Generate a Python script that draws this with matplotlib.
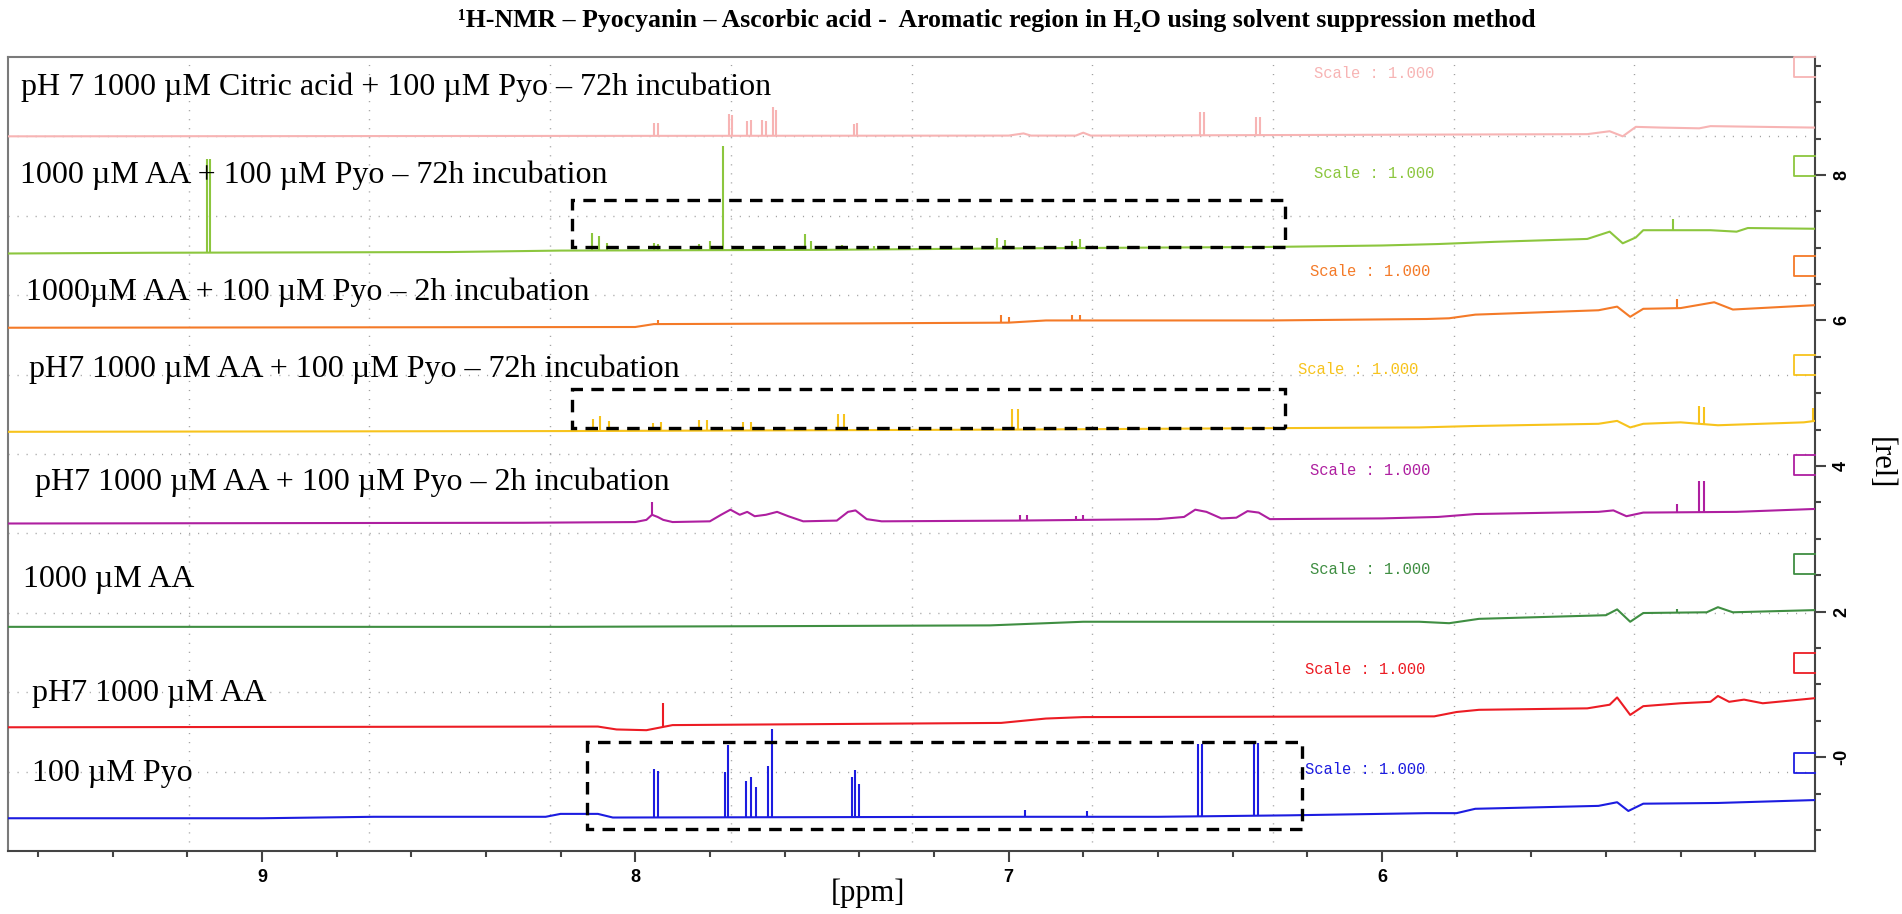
import numpy as np
import matplotlib
matplotlib.use('Agg')
import matplotlib.pyplot as plt
from matplotlib.patches import Rectangle

plt.rcParams['lines.scale_dashes'] = False

# ---- data: baseline anchors (ppm, rel) and peaks (ppm, height above baseline) ----
pink_base = [(9.68, 8.53), (7.0, 8.54), (6.96, 8.57), (6.94, 8.54), (6.82, 8.54), (6.80, 8.58),
             (6.78, 8.54), (5.45, 8.56), (5.39, 8.60), (5.355, 8.53), (5.32, 8.66), (5.25, 8.65),
             (5.15, 8.64), (5.12, 8.67), (4.84, 8.65)]
pink_peaks = [(7.950, 0.17), (7.938, 0.17), (7.750, 0.30), (7.742, 0.28), (7.700, 0.20), (7.690, 0.22),
              (7.660, 0.22), (7.650, 0.20), (7.630, 0.40), (7.622, 0.36), (7.415, 0.16), (7.405, 0.18),
              (6.486, 0.32), (6.476, 0.32), (6.337, 0.25), (6.327, 0.25)]

lime_base = [(9.68, 6.92), (9.3, 6.93), (8.5, 6.94), (8.2, 6.96), (7.5, 6.97), (7.0, 6.99), (6.30, 7.01),
             (6.0, 7.03), (5.85, 7.05), (5.70, 7.08), (5.45, 7.12), (5.39, 7.22), (5.355, 7.06),
             (5.32, 7.14), (5.30, 7.24), (5.12, 7.24), (5.05, 7.22), (5.02, 7.27), (4.84, 7.26)]
lime_peaks = [(9.148, 1.28), (9.138, 1.28), (7.765, 1.43), (8.115, 0.24), (8.098, 0.20), (8.075, 0.10),
              (7.950, 0.10), (7.940, 0.08), (7.830, 0.08), (7.800, 0.12), (7.710, 0.06), (7.680, 0.06),
              (7.545, 0.22), (7.530, 0.12), (7.445, 0.06), (7.360, 0.05), (7.030, 0.15), (7.010, 0.12),
              (6.830, 0.10), (6.810, 0.12), (5.220, 0.15)]

orange_base = [(9.68, 5.90), (8.0, 5.91), (7.95, 5.95), (7.40, 5.96), (7.0, 5.97), (6.9, 6.00), (6.3, 6.00),
               (5.88, 6.02), (5.82, 6.03), (5.75, 6.08), (5.42, 6.14), (5.37, 6.19), (5.335, 6.05),
               (5.30, 6.16), (5.20, 6.17), (5.11, 6.25), (5.06, 6.15), (4.84, 6.21)]
orange_peaks = [(7.94, 0.06), (7.02, 0.10), (7.00, 0.08), (6.83, 0.07), (6.81, 0.08), (5.21, 0.12)]

gold_base = [(9.68, 4.47), (8.2, 4.48), (7.0, 4.50), (6.3, 4.52), (5.9, 4.53), (5.75, 4.55), (5.42, 4.58),
             (5.37, 4.62), (5.335, 4.53), (5.30, 4.58), (5.20, 4.60), (5.10, 4.56), (4.87, 4.60), (4.84, 4.62)]
gold_peaks = [(8.114, 0.17), (8.094, 0.20), (8.071, 0.14), (7.952, 0.10), (7.930, 0.12), (7.829, 0.15),
              (7.808, 0.15), (7.712, 0.12), (7.690, 0.12), (7.458, 0.22), (7.442, 0.22), (6.990, 0.28),
              (6.975, 0.28), (5.150, 0.24), (5.136, 0.24), (4.845, 0.18)]

magenta_base = [(9.68, 3.21), (8.3, 3.22), (8.0, 3.23), (7.97, 3.26), (7.955, 3.33), (7.94, 3.30),
                (7.925, 3.26), (7.90, 3.23), (7.80, 3.24), (7.77, 3.33), (7.745, 3.40), (7.72, 3.33),
                (7.70, 3.37), (7.68, 3.31), (7.65, 3.33), (7.62, 3.37), (7.59, 3.31), (7.55, 3.24),
                (7.46, 3.25), (7.43, 3.37), (7.41, 3.39), (7.38, 3.27), (7.34, 3.24), (6.98, 3.25),
                (6.6, 3.27), (6.53, 3.30), (6.50, 3.40), (6.47, 3.37), (6.43, 3.28), (6.39, 3.29),
                (6.36, 3.38), (6.33, 3.36), (6.30, 3.27), (6.0, 3.28), (5.85, 3.30), (5.75, 3.34),
                (5.42, 3.37), (5.38, 3.39), (5.345, 3.31), (5.30, 3.36), (5.05, 3.37), (4.84, 3.41)]
magenta_peaks = [(7.955, 0.17), (6.97, 0.07), (6.95, 0.08), (6.82, 0.06), (6.80, 0.07), (5.21, 0.12),
                 (5.150, 0.43), (5.136, 0.43)]

green_base = [(9.68, 1.79), (8.20, 1.79), (7.60, 1.80), (7.05, 1.81), (6.80, 1.86), (5.90, 1.86),
              (5.82, 1.84), (5.74, 1.90), (5.40, 1.95), (5.37, 2.03), (5.335, 1.86), (5.30, 1.98),
              (5.13, 1.99), (5.10, 2.06), (5.06, 1.99), (4.84, 2.02)]
green_peaks = [(5.21, 0.05)]

red_base = [(9.68, 0.41), (8.10, 0.42), (8.05, 0.38), (7.97, 0.37), (7.90, 0.44), (7.02, 0.47), (6.90, 0.53),
            (6.80, 0.55), (5.86, 0.56), (5.80, 0.62), (5.74, 0.65), (5.45, 0.67), (5.39, 0.72), (5.37, 0.82),
            (5.335, 0.58), (5.30, 0.70), (5.20, 0.74), (5.12, 0.76), (5.10, 0.84), (5.07, 0.76), (5.03, 0.79),
            (4.98, 0.74), (4.84, 0.81)]
red_peaks = [(7.925, 0.33)]

blue_base = [(9.68, -0.84), (9.0, -0.84), (8.7, -0.82), (8.24, -0.82), (8.20, -0.78), (8.10, -0.78),
             (8.06, -0.83), (7.0, -0.82), (6.6, -0.82), (6.25, -0.80), (5.88, -0.77), (5.80, -0.77),
             (5.75, -0.71), (5.42, -0.67), (5.37, -0.62), (5.34, -0.74), (5.30, -0.64), (5.10, -0.63),
             (4.84, -0.59)]
blue_peaks = [(7.950, 0.66), (7.940, 0.64), (7.760, 0.62), (7.751, 1.00), (7.702, 0.50), (7.690, 0.55),
              (7.676, 0.42), (7.645, 0.70), (7.633, 1.21), (7.420, 0.55), (7.410, 0.65), (7.400, 0.45),
              (6.955, 0.10), (6.790, 0.08), (6.493, 1.00), (6.483, 1.00), (6.342, 1.00), (6.332, 1.00)]

labels = ['pH 7 1000 µM Citric acid + 100 µM Pyo – 72h incubation',
          '1000 µM AA + 100 µM Pyo – 72h incubation',
          '1000µM AA + 100 µM Pyo – 2h incubation',
          'pH7 1000 µM AA + 100 µM Pyo – 72h incubation',
          'pH7 1000 µM AA + 100 µM Pyo – 2h incubation',
          '1000 µM AA',
          'pH7 1000 µM AA',
          '100 µM Pyo']
colors = ['#f7b4b4', '#8cc63e', '#f47a28', '#f7c31c', '#ae1fa0', '#3f8e42', '#ec1c24', '#1c1ce0']
bases = [pink_base, lime_base, orange_base, gold_base, magenta_base, green_base, red_base, blue_base]
peak_sets = [pink_peaks, lime_peaks, orange_peaks, gold_peaks, magenta_peaks, green_peaks, red_peaks, blue_peaks]

# dashed highlight boxes (ppm left, ppm right, rel bottom, rel top)
boxes = [(8.17, 6.26, 7.01, 7.66), (8.17, 6.26, 4.52, 5.06), (8.13, 6.215, -0.99, 0.21)]

xlim = (9.68, 4.84)
ylim = (-1.29, 9.62)

# pixel layout of reference (1902 x 914)
W, H = 1902, 914
L, R, T, B = 8, 1815, 57, 851
label_px = [(21, 87), (20, 175), (26, 292), (29, 369), (35, 482), (23, 579), (32, 693), (32, 773)]
scale_px = [(1314, 74), (1314, 173), (1310, 272), (1298, 370), (1310, 470), (1310, 570), (1305, 669), (1305, 769)]

fig = plt.figure(figsize=(W / 100, H / 100), dpi=100)
ax = fig.add_axes([L / W, 1 - B / H, (R - L) / W, (B - T) / H])
ax.set_xlim(*xlim)
ax.set_ylim(*ylim)


def ax_frac(px, py):
    return (px - L) / (R - L), (B - py) / (B - T)


# dotted grid at 10 equal divisions
for gx in np.linspace(xlim[0], xlim[1], 11)[1:-1]:
    ax.axvline(gx, color='#a0a0a0', lw=1.0, linestyle=(0, (0.8, 5.7)), zorder=0)
for gy in np.linspace(ylim[0], ylim[1], 11)[1:-1]:
    ax.axhline(gy, color='#a0a0a0', lw=1.0, linestyle=(0, (0.8, 5.7)), zorder=0)

# spectra
for base, peaks, c in zip(bases, peak_sets, colors):
    bx = [p[0] for p in base]
    by = [p[1] for p in base]
    ax.plot(bx, by, color=c, lw=1.5, zorder=3)
    px = np.array([p[0] for p in peaks])
    ph = np.array([p[1] for p in peaks])
    foot = np.interp(px, bx[::-1], by[::-1])
    ax.vlines(px, foot, foot + ph, colors=c, lw=1.5, zorder=3)

# dashed boxes
for x0, x1, y0, y1 in boxes:
    ax.add_patch(Rectangle((x1, y0), x0 - x1, y1 - y0, fill=False, ec='black', lw=2.4,
                           linestyle=(0, (9, 6)), zorder=4))

# sample labels, scale labels, colour markers
for i, (txt, c) in enumerate(zip(labels, colors)):
    fx, fy = ax_frac(*label_px[i])
    ax.text(fx, fy, txt, transform=ax.transAxes, ha='left', va='center',
            fontsize=23, family=['Liberation Serif', 'DejaVu Serif'], color='black', zorder=5)
    sx, sy = ax_frac(*scale_px[i])
    ax.text(sx, sy, 'Scale : 1.000', transform=ax.transAxes, ha='left', va='center',
            fontsize=11.2, family=['Liberation Mono', 'DejaVu Sans Mono'], color=c, zorder=5)
    top = (B - (T + 99.4 * i)) / (B - T)
    h = 20 / (B - T)
    w = 21 / (R - L)
    ax.plot([1, 1 - w, 1 - w, 1], [top, top, top - h, top - h], transform=ax.transAxes,
            color=c, lw=1.3, clip_on=False, zorder=5)

# axes styling
for s in ['top', 'left']:
    ax.spines[s].set_color('#7a7a7a')
for s in ['bottom', 'right']:
    ax.spines[s].set_color('#444444')
for s in ax.spines.values():
    s.set_linewidth(1.5)

ax.set_xticks([9, 8, 7, 6])
ax.set_xticklabels(['9', '8', '7', '6'])
ax.set_xticks(np.arange(5.0, 9.61, 0.2), minor=True)
ax.yaxis.tick_right()
ax.set_yticks([0, 2, 4, 6, 8])
ax.set_yticklabels(['-0', '2', '4', '6', '8'], rotation=90, va='center')
ax.set_yticks(np.arange(-1.0, 9.51, 0.5), minor=True)
ax.tick_params(which='major', direction='out', length=8, width=1.5, color='#444444', pad=5,
               labelsize=13)
ax.tick_params(which='minor', direction='out', length=4.5, width=1.5, color='#444444')
ax.tick_params(axis='y', which='both', left=False, right=True)
for lab in ax.get_xticklabels() + ax.get_yticklabels():
    lab.set_fontweight('bold')
    lab.set_family(['Liberation Sans', 'DejaVu Sans'])

fig.text(868 / W, 1 - 893 / H, '[ppm]', ha='center', va='center', fontsize=22,
         family=['Liberation Serif', 'DejaVu Serif'])
fig.text(1880 / W, 1 - 463 / H, '[rel]', ha='center', va='center', fontsize=22, rotation=270,
         family=['Liberation Serif', 'DejaVu Serif'])
fig.text(997 / W, 1 - 20 / H,
         '¹H-NMR – Pyocyanin – Ascorbic acid -  Aromatic region in H₂O using solvent suppression method',
         ha='center', va='center', fontsize=18.5, fontweight='bold',
         family=['Liberation Serif', 'DejaVu Serif'])

fig.savefig('out.png', dpi=100)
